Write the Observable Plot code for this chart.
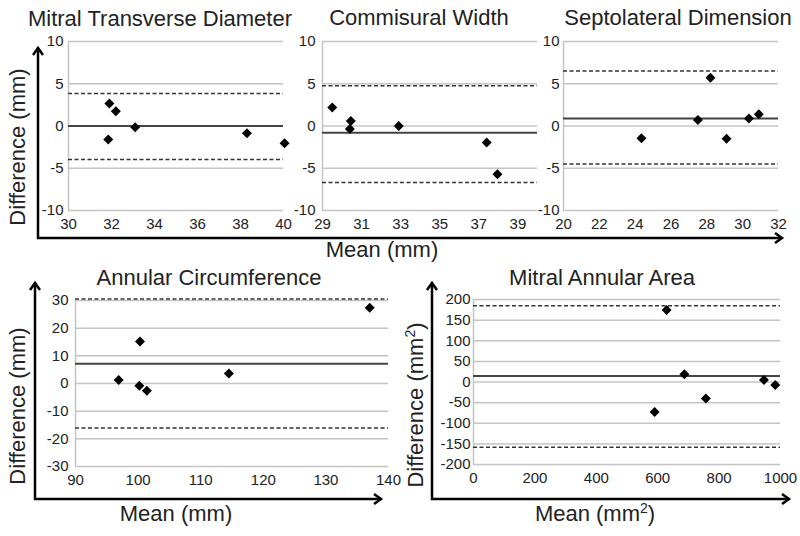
<!DOCTYPE html>
<html><head><meta charset="utf-8">
<script src="https://cdn.jsdelivr.net/npm/d3@7"></script>
<script src="https://cdn.jsdelivr.net/npm/@observablehq/plot@0.6"></script>
<style>
body{margin:0;background:#fff}
#wrap{position:relative;width:800px;height:536px;overflow:hidden;font-family:"Liberation Sans",Arial,sans-serif}
</style></head><body><div id="wrap"></div>
<script>
// ---------- data ----------
const titles = ["Mitral Transverse Diameter","Commisural Width","Septolateral Dimension","Annular Circumference","Mitral Annular Area"];

const mtdMean = [31.9, 32.2, 31.85, 33.1, 38.3, 40.05];
const mtdDiff = [2.65, 1.75, -1.6, -0.15, -0.85, -2.05];
const mtdBias = 0;
const mtdLimits = [3.85, -3.95];
const mtdXTicks = [30, 32, 34, 36, 38, 40];

const cwMean = [29.5, 30.45, 30.4, 32.9, 37.4, 37.95];
const cwDiff = [2.2, 0.6, -0.35, 0.0, -1.95, -5.7];
const cwBias = -0.8;
const cwLimits = [4.75, -6.7];
const cwXTicks = [29, 31, 33, 35, 37, 39];

const sldMean = [24.35, 27.5, 28.2, 29.1, 30.35, 30.9];
const sldDiff = [-1.45, 0.7, 5.7, -1.5, 0.9, 1.4];
const sldBias = 0.9;
const sldLimits = [6.5, -4.5];
const sldXTicks = [20, 22, 24, 26, 28, 30, 32];

const topYTicks = [-10, -5, 0, 5, 10];

const acMean = [96.9, 100.3, 100.2, 101.4, 114.5, 137];
const acDiff = [1.3, 15.2, -0.8, -2.6, 3.6, 27.4];
const acBias = 7.1;
const acLimits = [30.5, -16.1];
const acXTicks = [90, 100, 110, 120, 130, 140];
const acYTicks = [-30, -20, -10, 0, 10, 20, 30];

const maaMean = [629, 687, 590, 757, 946, 983];
const maaDiff = [174.5, 19, -73, -40, 5, -7];
const maaBias = 14.5;
const maaLimits = [185, -158];
const maaXTicks = [0, 200, 400, 600, 800, 1000];
const maaYTicks = [-200, -150, -100, -50, 0, 50, 100, 150, 200];

// ---------- layout ----------
const FONT = '"Liberation Sans", Arial, sans-serif';
const panels = [
  {title: titles[0], xs: mtdMean, ys: mtdDiff, bias: mtdBias, limits: mtdLimits, xTicks: mtdXTicks, yTicks: topYTicks,
   box: {left: 0, top: 0, width: 300, height: 245}, m: {l: 68, r: 17, t: 41, b: 35}, yPad: 5, tx: 160, ty: 26},
  {title: titles[1], xs: cwMean, ys: cwDiff, bias: cwBias, limits: cwLimits, xTicks: cwXTicks, yTicks: topYTicks, xMax: 40,
   box: {left: 290, top: 0, width: 260, height: 245}, m: {l: 32, r: 13, t: 41, b: 35}, yPad: 7, tx: 419, ty: 25},
  {title: titles[2], xs: sldMean, ys: sldDiff, bias: sldBias, limits: sldLimits, xTicks: sldXTicks, yTicks: topYTicks,
   box: {left: 530, top: 0, width: 270, height: 245}, m: {l: 33, r: 22, t: 41, b: 35}, yPad: 4, tx: 678, ty: 25},
  {title: titles[3], xs: acMean, ys: acDiff, bias: acBias, limits: acLimits, xTicks: acXTicks, yTicks: acYTicks,
   box: {left: 0, top: 260, width: 400, height: 245}, m: {l: 75, r: 12, t: 40, b: 39}, yPad: 7, tx: 209, ty: 285},
  {title: titles[4], xs: maaMean, ys: maaDiff, bias: maaBias, limits: maaLimits, xTicks: maaXTicks, yTicks: maaYTicks,
   box: {left: 400, top: 260, width: 400, height: 245}, m: {l: 73, r: 20, t: 39, b: 41}, yPad: 3, tx: 602, ty: 285}
];

const wrap = document.getElementById("wrap");

for (const p of panels) {
  const pts = p.xs.map((x, i) => ({x, y: p.ys[i]}));
  const xDom = [d3.min(p.xTicks), p.xMax ?? d3.max(p.xTicks)];
  const yDom = [d3.min(p.yTicks), d3.max(p.yTicks)];
  const chart = Plot.plot({
    width: p.box.width, height: p.box.height,
    marginLeft: p.m.l, marginRight: p.m.r, marginTop: p.m.t, marginBottom: p.m.b,
    x: {domain: xDom},
    y: {domain: yDom},
    style: {fontFamily: FONT, fontSize: "15px", color: "#222", background: "transparent", overflow: "visible"},
    marks: [
      Plot.ruleY(p.yTicks, {stroke: "#c4c4c4", strokeWidth: 1.5}),
      Plot.ruleX([xDom[0]], {stroke: "#c4c4c4", strokeWidth: 1.5}),
      Plot.ruleY(p.limits, {stroke: "#333", strokeWidth: 1.5, strokeDasharray: "4,2.5"}),
      Plot.ruleY([p.bias], {stroke: "#444", strokeWidth: 2}),
      Plot.dot(pts, {x: "x", y: "y", symbol: "diamond2", r: 4.5, fill: "#000", stroke: "none"}),
      Plot.axisX(p.xTicks, {tickSize: 0, tickPadding: 8, label: null, fontSize: 15, tickFormat: d => String(d)}),
      Plot.axisY(p.yTicks, {tickSize: 0, tickPadding: p.yPad, label: null, fontSize: 15, tickFormat: d => String(d)})
    ]
  });
  chart.style.position = "absolute";
  chart.style.left = p.box.left + "px";
  chart.style.top = p.box.top + "px";
  wrap.appendChild(chart);
}

// ---------- overlay: titles, axis captions, arrows ----------
const ov = d3.select(wrap).append("svg")
  .attr("width", 800).attr("height", 536)
  .style("position", "absolute").style("left", "0px").style("top", "0px")
  .style("font-family", FONT);

for (const p of panels) {
  ov.append("text").attr("x", p.tx).attr("y", p.ty).attr("text-anchor", "middle")
    .attr("font-size", 22).attr("fill", "#222").text(p.title);
}

function yLabel(x, y, sup) {
  const t = ov.append("text").attr("transform", `translate(${x},${y}) rotate(-90)`)
    .attr("text-anchor", "middle").attr("font-size", 22).attr("fill", "#222");
  if (sup) {
    t.append("tspan").text("Difference (mm");
    t.append("tspan").attr("font-size", 14).attr("dy", -8).text("2");
    t.append("tspan").attr("dy", 8).text(")");
  } else t.text("Difference (mm)");
}
function xLabel(x, y, sup) {
  const t = ov.append("text").attr("x", x).attr("y", y)
    .attr("text-anchor", "middle").attr("font-size", 22).attr("fill", "#222");
  if (sup) {
    t.append("tspan").text("Mean (mm");
    t.append("tspan").attr("font-size", 14).attr("dy", -8).text("2");
    t.append("tspan").attr("dy", 8).text(")");
  } else t.text("Mean (mm)");
}
yLabel(25, 147, false);
yLabel(25, 406, false);
yLabel(423, 405, true);
xLabel(382, 257, false);
xLabel(176, 521, false);
xLabel(595, 521, true);

function arrowUp(x, y0, y1) {
  ov.append("line").attr("x1", x).attr("x2", x).attr("y1", y0).attr("y2", y1)
    .attr("stroke", "#000").attr("stroke-width", 2.5);
  ov.append("polyline").attr("points", `${x-5},${y1+7} ${x},${y1} ${x+5},${y1+7}`)
    .attr("fill", "none").attr("stroke", "#000").attr("stroke-width", 2.5);
}
function arrowRight(y, x0, x1) {
  ov.append("line").attr("x1", x0).attr("x2", x1).attr("y1", y).attr("y2", y)
    .attr("stroke", "#000").attr("stroke-width", 2.5);
  ov.append("polyline").attr("points", `${x1-7},${y-5} ${x1},${y} ${x1-7},${y+5}`)
    .attr("fill", "none").attr("stroke", "#000").attr("stroke-width", 2.5);
}
arrowUp(38, 239, 48);
arrowRight(238, 37, 782);
arrowUp(35, 500, 283);
arrowRight(499, 34, 381);
arrowUp(432, 500, 283);
arrowRight(499, 431, 789);
</script></body></html>
